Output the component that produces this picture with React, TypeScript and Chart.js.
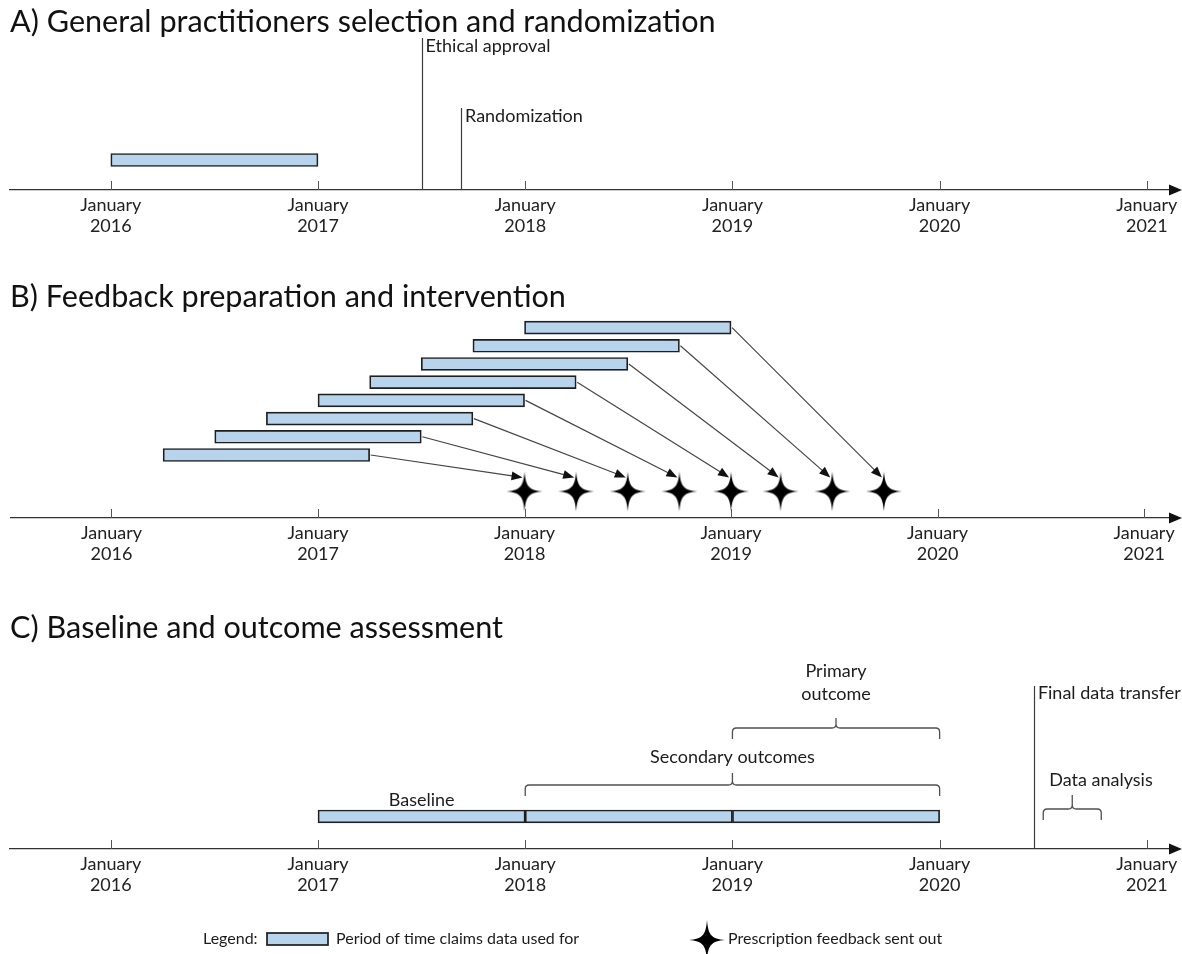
import React, { useEffect, useRef } from 'react';
import { Chart, registerables } from 'chart.js';

Chart.register(...registerables);

// ---------- data ----------
const YEARS = [2016, 2017, 2018, 2019, 2020, 2021];
const X_MIN = 2015.5135;
const X_MAX = 2021.1301;

// Panel A
const TITLE_A = 'A) General practitioners selection and randomization';
const GP_SELECTION_START = [2016];
const GP_SELECTION_END = [2017];
const GP_SELECTION_ROW = [1];
const ETHICAL_APPROVAL = 2017.5;
const RANDOMIZATION = 2017.69;

// Panel B
const TITLE_B = 'B) Feedback preparation and intervention';
const FEEDBACK_ROWS = [1, 2, 3, 4, 5, 6, 7, 8];
const CLAIMS_START = [2016.25, 2016.5, 2016.75, 2017, 2017.25, 2017.5, 2017.75, 2018];
const CLAIMS_END = [2017.25, 2017.5, 2017.75, 2018, 2018.25, 2018.5, 2018.75, 2019];
const FEEDBACK_SENT = [2018, 2018.25, 2018.5, 2018.75, 2019, 2019.24, 2019.49, 2019.74];
const STAR_ROW = -1;

// Panel C
const TITLE_C = 'C) Baseline and outcome assessment';
const ASSESS_START = [2017, 2018, 2019];
const ASSESS_END = [2018, 2019, 2020];
const ASSESS_ROW = [1, 1, 1];
const BASELINE = [2017, 2018];
const SECONDARY_OUTCOMES = [2018, 2020];
const PRIMARY_OUTCOME = [2019, 2020];
const FINAL_TRANSFER = 2020.455;
const DATA_ANALYSIS = [2020.5, 2020.78];

// ---------- style ----------
const FONT = 'Lato, "Open Sans", sans-serif';
const TEXT = '#1c1c1c';
const LINE = '#3c3c3c';
const BAR_FILL = '#b8d3ec';
const BAR_EDGE = '#1e1e1e';

function makeStar(halfW: number, halfH: number): HTMLCanvasElement {
  const c = document.createElement('canvas');
  c.width = halfW * 2 + 2;
  c.height = halfH * 2 + 2;
  const ctx = c.getContext('2d')!;
  const cx = c.width / 2;
  const cy = c.height / 2;
  const a = 1.2;
  const b = 4.6;
  ctx.beginPath();
  ctx.moveTo(cx, cy - halfH);
  ctx.bezierCurveTo(cx + a, cy - b, cx + b, cy - a, cx + halfW, cy);
  ctx.bezierCurveTo(cx + b, cy + a, cx + a, cy + b, cx, cy + halfH);
  ctx.bezierCurveTo(cx - a, cy + b, cx - b, cy + a, cx - halfW, cy);
  ctx.bezierCurveTo(cx - b, cy - a, cx - a, cy - b, cx, cy - halfH);
  ctx.closePath();
  ctx.fillStyle = '#000';
  ctx.fill();
  return c;
}

function text(ctx: CanvasRenderingContext2D, s: string, x: number, y: number, align: CanvasTextAlign = 'left', size = 18) {
  ctx.save();
  ctx.font = `${size}px ${FONT}`;
  ctx.fillStyle = TEXT;
  ctx.textAlign = align;
  ctx.textBaseline = 'middle';
  ctx.fillText(s, x, y);
  ctx.restore();
}

function vline(ctx: CanvasRenderingContext2D, x: number, y1: number, y2: number) {
  ctx.save();
  ctx.strokeStyle = LINE;
  ctx.lineWidth = 1.2;
  ctx.beginPath();
  const xx = Math.round(x) + 0.5;
  ctx.moveTo(xx, y1);
  ctx.lineTo(xx, y2);
  ctx.stroke();
  ctx.restore();
}

function bracket(ctx: CanvasRenderingContext2D, x1: number, x2: number, yH: number, drop: number, stem: number) {
  const r = 4;
  const xm = (x1 + x2) / 2;
  ctx.save();
  ctx.strokeStyle = '#505050';
  ctx.lineWidth = 1.3;
  ctx.beginPath();
  ctx.moveTo(x1, yH + drop);
  ctx.lineTo(x1, yH + r);
  ctx.quadraticCurveTo(x1, yH, x1 + r, yH);
  ctx.lineTo(xm - r, yH);
  ctx.quadraticCurveTo(xm, yH, xm, yH - r);
  ctx.lineTo(xm, yH - stem);
  ctx.moveTo(xm, yH - r);
  ctx.quadraticCurveTo(xm, yH, xm + r, yH);
  ctx.lineTo(x2 - r, yH);
  ctx.quadraticCurveTo(x2, yH, x2, yH + r);
  ctx.lineTo(x2, yH + drop);
  ctx.stroke();
  ctx.restore();
}

function arrow(ctx: CanvasRenderingContext2D, x1: number, y1: number, x2: number, y2: number) {
  const ang = Math.atan2(y2 - y1, x2 - x1);
  const L = 11;
  const W = 4.4;
  const c = Math.cos(ang);
  const s = Math.sin(ang);
  ctx.save();
  ctx.strokeStyle = '#454545';
  ctx.fillStyle = '#111';
  ctx.lineWidth = 1.2;
  ctx.beginPath();
  ctx.moveTo(x1, y1);
  ctx.lineTo(x2 - L * 0.8 * c, y2 - L * 0.8 * s);
  ctx.stroke();
  ctx.beginPath();
  ctx.moveTo(x2, y2);
  ctx.lineTo(x2 - L * c + W * s, y2 - L * s - W * c);
  ctx.lineTo(x2 - L * c - W * s, y2 - L * s + W * c);
  ctx.closePath();
  ctx.fill();
  ctx.restore();
}

function axisDecor(chart: any) {
  const { ctx, chartArea } = chart;
  const xs = chart.scales.x;
  const axis = chartArea.bottom;
  ctx.save();
  ctx.strokeStyle = '#555';
  ctx.lineWidth = 1;
  xs.ticks.forEach((t: any) => {
    const x = Math.round(xs.getPixelForValue(t.value)) + 0.5;
    ctx.beginPath();
    ctx.moveTo(x, axis - 9);
    ctx.lineTo(x, axis);
    ctx.stroke();
  });
  const right = chart.width;
  ctx.fillStyle = '#111';
  ctx.beginPath();
  ctx.moveTo(right - 13, axis - 5.5);
  ctx.lineTo(right, axis);
  ctx.lineTo(right - 13, axis + 5.5);
  ctx.closePath();
  ctx.fill();
  ctx.restore();
}

function baseOptions(title: string, padTop: number, padBottom: number, yMin: number, yMax: number, layoutBottom: number): any {
  const fixX = (s: any) => {
    s.min = X_MIN;
    s.max = X_MAX;
  };
  const fixY = (s: any) => {
    s.min = yMin;
    s.max = yMax;
  };
  return {
    animation: false,
    responsive: false,
    maintainAspectRatio: false,
    devicePixelRatio: 1,
    indexAxis: 'y',
    events: [],
    layout: { padding: { left: 10, right: 6, top: 0, bottom: layoutBottom } },
    plugins: {
      legend: { display: false },
      tooltip: { enabled: false },
      title: {
        display: true,
        text: title,
        align: 'start',
        color: '#111',
        font: { family: FONT, size: 30.6, weight: 'normal', lineHeight: 1.1 },
        padding: { top: padTop, bottom: padBottom },
      },
    },
    scales: {
      x: {
        type: 'linear',
        min: X_MIN,
        max: X_MAX,
        offset: false,
        bounds: 'data',
        grace: 0,
        beginAtZero: false,
        afterDataLimits: fixX,
        afterBuildTicks: (s: any) => {
          s.ticks = YEARS.map((v) => ({ value: v }));
          fixX(s);
        },
        grid: { display: false, drawTicks: false, offset: false },
        border: { display: true, color: '#333', width: 1.3 },
        ticks: {
          padding: 4.5,
          color: '#222',
          maxRotation: 0,
          autoSkip: false,
          includeBounds: false,
          font: { family: FONT, size: 18, lineHeight: 1.167 },
          callback: (v: any) => ['January', String(v)],
        },
      },
      y: {
        type: 'linear',
        display: false,
        min: yMin,
        max: yMax,
        offset: false,
        bounds: 'data',
        grace: 0,
        beginAtZero: false,
        grid: { offset: false },
        afterDataLimits: fixY,
        afterBuildTicks: fixY,
      },
    },
  };
}

function barDataset(starts: number[], ends: number[], rows: number[]) {
  return {
    type: 'bar',
    indexAxis: 'y',
    data: starts.map((s, i) => ({ x: [s, ends[i]], y: rows[i] })),
    backgroundColor: BAR_FILL,
    borderColor: BAR_EDGE,
    borderWidth: 1.7,
    borderSkipped: false,
    barThickness: 13,
  };
}

export default function App() {
  const refA = useRef<HTMLCanvasElement>(null);
  const refB = useRef<HTMLCanvasElement>(null);
  const refC = useRef<HTMLCanvasElement>(null);

  useEffect(() => {
    const star = makeStar(18, 20);

    const chartA = new Chart(refA.current!, {
      type: 'bar',
      data: { datasets: [barDataset(GP_SELECTION_START, GP_SELECTION_END, GP_SELECTION_ROW) as any] },
      options: baseOptions(TITLE_A, 5.17, 0, 0, 5.04, 1),
      plugins: [
        {
          id: 'annotA',
          afterDraw(chart: any) {
            const { ctx, chartArea } = chart;
            const xs = chart.scales.x;
            const axis = chartArea.bottom;
            axisDecor(chart);
            const xe = xs.getPixelForValue(ETHICAL_APPROVAL);
            vline(ctx, xe, axis - 152, axis);
            text(ctx, 'Ethical approval', xe + 4, axis - 144);
            const xr = xs.getPixelForValue(RANDOMIZATION);
            vline(ctx, xr, axis - 82, axis);
            text(ctx, 'Randomization', xr + 4, axis - 74);
          },
        },
      ],
    } as any);

    const chartB = new Chart(refB.current!, {
      type: 'bar',
      data: {
        datasets: [
          barDataset(CLAIMS_START, CLAIMS_END, FEEDBACK_ROWS) as any,
          {
            type: 'scatter',
            indexAxis: 'x',
            data: FEEDBACK_SENT.map((x) => ({ x, y: STAR_ROW })),
            pointStyle: star,
            pointRadius: 10,
          } as any,
        ],
      },
      options: baseOptions(TITLE_B, 30.17, 1.17, -2.46, 8.69, 1),
      plugins: [
        {
          id: 'annotB',
          afterDatasetsDraw(chart: any) {
            const { ctx } = chart;
            const xs = chart.scales.x;
            const ys = chart.scales.y;
            FEEDBACK_ROWS.forEach((row, i) => {
              const x1 = xs.getPixelForValue(CLAIMS_END[i]) + 1;
              const y1 = ys.getPixelForValue(row);
              const x2 = xs.getPixelForValue(FEEDBACK_SENT[i]) - 2;
              const y2 = ys.getPixelForValue(STAR_ROW) - 14;
              arrow(ctx, x1, y1, x2, y2);
            });
          },
          afterDraw(chart: any) {
            axisDecor(chart);
          },
        },
      ],
    } as any);

    const chartC = new Chart(refC.current!, {
      type: 'bar',
      data: { datasets: [barDataset(ASSESS_START, ASSESS_END, ASSESS_ROW) as any] },
      options: baseOptions(TITLE_C, 31.17, 15.17, 0, 5.815, 54),
      plugins: [
        {
          id: 'annotC',
          afterDraw(chart: any) {
            const { ctx, chartArea } = chart;
            const xs = chart.scales.x;
            const axis = chartArea.bottom;
            axisDecor(chart);
            const px = (v: number) => xs.getPixelForValue(v);
            // baseline
            text(ctx, 'Baseline', (px(BASELINE[0]) + px(BASELINE[1])) / 2, axis - 49, 'center');
            // secondary outcomes
            bracket(ctx, px(SECONDARY_OUTCOMES[0]), px(SECONDARY_OUTCOMES[1]), axis - 64, 11, 12);
            text(ctx, 'Secondary outcomes', (px(SECONDARY_OUTCOMES[0]) + px(SECONDARY_OUTCOMES[1])) / 2, axis - 92, 'center');
            // primary outcome
            bracket(ctx, px(PRIMARY_OUTCOME[0]), px(PRIMARY_OUTCOME[1]), axis - 121, 11, 10);
            const pm = (px(PRIMARY_OUTCOME[0]) + px(PRIMARY_OUTCOME[1])) / 2;
            text(ctx, 'Primary', pm, axis - 178, 'center');
            text(ctx, 'outcome', pm, axis - 155, 'center');
            // final data transfer
            const xf = px(FINAL_TRANSFER);
            vline(ctx, xf, axis - 163, axis);
            text(ctx, 'Final data transfer', xf + 4, axis - 156);
            // data analysis
            bracket(ctx, px(DATA_ANALYSIS[0]), px(DATA_ANALYSIS[1]), axis - 40, 11, 14);
            text(ctx, 'Data analysis', px(DATA_ANALYSIS[0]) + 6, axis - 69);

            // legend
            const ly = 359;
            text(ctx, 'Legend:', 203, ly, 'left', 16);
            ctx.save();
            ctx.fillStyle = BAR_FILL;
            ctx.strokeStyle = BAR_EDGE;
            ctx.lineWidth = 1.7;
            ctx.fillRect(267, ly - 6, 61, 12);
            ctx.strokeRect(267, ly - 6, 61, 12);
            ctx.restore();
            text(ctx, 'Period of time claims data used for', 336, ly, 'left', 16);
            ctx.drawImage(star, 707 - star.width / 2, ly + 1 - star.height / 2);
            text(ctx, 'Prescription feedback sent out', 728, ly, 'left', 16);
          },
        },
      ],
    } as any);

    return () => {
      chartA.destroy();
      chartB.destroy();
      chartC.destroy();
    };
  }, []);

  return (
    <div style={{ position: 'absolute', left: 0, top: 0, width: 1182, height: 954, background: '#fff' }}>
      <canvas ref={refA} width={1182} height={242} style={{ position: 'absolute', left: 0, top: 0, width: 1182, height: 242 }} />
      <canvas ref={refB} width={1182} height={320} style={{ position: 'absolute', left: 0, top: 250, width: 1182, height: 320 }} />
      <canvas ref={refC} width={1182} height={374} style={{ position: 'absolute', left: 0, top: 580, width: 1182, height: 374 }} />
    </div>
  );
}
